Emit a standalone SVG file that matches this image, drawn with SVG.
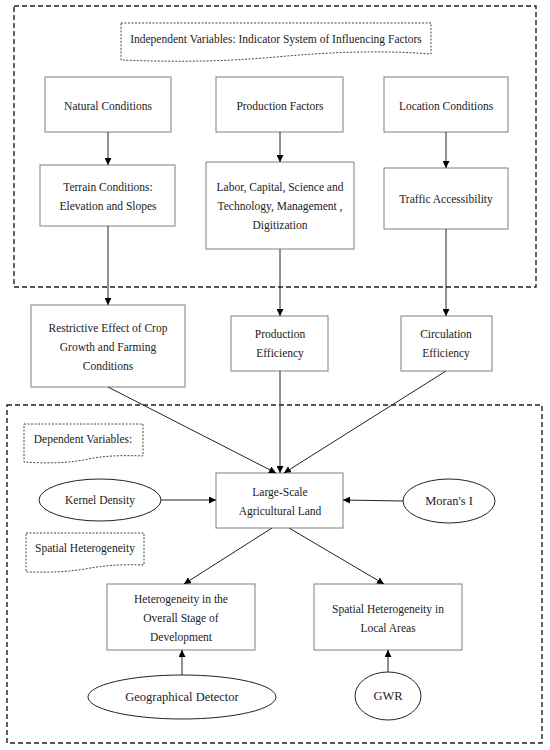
<svg xmlns="http://www.w3.org/2000/svg" width="550" height="750" viewBox="0 0 550 750">
<style>
.box{fill:#fff;stroke:#808080;stroke-width:1}
.ell{fill:#fff;stroke:#222;stroke-width:1}
.frame{fill:none;stroke:#222;stroke-width:1.4;stroke-dasharray:5,3}
.doc{fill:#fff;stroke:#333;stroke-width:0.9;stroke-dasharray:2,1.5}
.t{font-family:"Liberation Serif","DejaVu Serif",serif;font-size:11.5px;fill:#222;text-anchor:middle}
.tl{font-family:"Liberation Serif","DejaVu Serif",serif;font-size:12.5px;fill:#222;text-anchor:middle}
.c{stroke:#222;stroke-width:1;fill:none;marker-end:url(#ah)}
</style>
<defs>
<marker id="ah" viewBox="0 0 10 10" refX="10" refY="5" markerWidth="7" markerHeight="7" markerUnits="userSpaceOnUse" orient="auto">
<path d="M0,0 L10,5 L0,10 Z" fill="#000"/>
</marker>
</defs>
<rect x="14" y="6" width="522" height="281" class="frame"/>
<rect x="7" y="405" width="535" height="338" class="frame"/>
<g id="title">
<path class="doc" d="M121,23 H431 V54 C 380,50 330,52 276,57 C 220,62 170,62 121,60 Z"/>
<text class="t" x="276" y="43">Independent Variables: Indicator System of Influencing Factors</text>
</g>
<g id="natural"><rect class="box" x="45" y="77" width="126" height="55"/><text class="t" x="108" y="110">Natural Conditions</text></g>
<g id="production"><rect class="box" x="216" y="77" width="127" height="55"/><text class="t" x="280" y="110">Production Factors</text></g>
<g id="location"><rect class="box" x="384" y="77" width="124" height="55"/><text class="t" x="446" y="110">Location Conditions</text></g>
<g id="terrain"><rect class="box" x="40" y="165" width="135" height="61"/><text class="t" x="108" y="191">Terrain Conditions:</text><text class="t" x="108" y="210">Elevation and Slopes</text></g>
<g id="labor"><rect class="box" x="206" y="162" width="148" height="87"/><text class="t" x="280" y="191">Labor, Capital, Science and</text><text class="t" x="280" y="210">Technology, Management ,</text><text class="t" x="280" y="229">Digitization</text></g>
<g id="traffic"><rect class="box" x="384" y="168" width="124" height="61"/><text class="t" x="446" y="203">Traffic Accessibility</text></g>
<g id="restrictive"><rect class="box" x="31" y="305" width="154" height="82"/><text class="t" x="108" y="332">Restrictive Effect of Crop</text><text class="t" x="108" y="351">Growth and Farming</text><text class="t" x="108" y="370">Conditions</text></g>
<g id="prodeff"><rect class="box" x="231" y="316" width="97" height="55"/><text class="t" x="280" y="338">Production</text><text class="t" x="280" y="357">Efficiency</text></g>
<g id="circeff"><rect class="box" x="401" y="316" width="91" height="55"/><text class="t" x="446" y="338">Circulation</text><text class="t" x="446" y="357">Efficiency</text></g>
<g id="depvar">
<path class="doc" d="M24,424 H143 V456 C 120,455 100,456 84,460 C 60,464 40,463 24,462 Z"/>
<text class="t" x="83" y="443">Dependent Variables:</text>
</g>
<g id="spathet">
<path class="doc" d="M26,533 H144 V565 C 120,564 100,566 85,569 C 60,573 42,572 26,572 Z"/>
<text class="t" x="85" y="552">Spatial Heterogeneity</text>
</g>
<g id="large"><rect class="box" x="216" y="473" width="127" height="55"/><text class="t" x="280" y="496">Large-Scale</text><text class="t" x="280" y="515">Agricultural Land</text></g>
<g id="kernel"><ellipse class="ell" cx="100" cy="500" rx="61" ry="21"/><text class="t" x="100" y="504">Kernel Density</text></g>
<g id="moran"><ellipse class="ell" cx="449" cy="501" rx="46" ry="22"/><text class="tl" x="449" y="505">Moran's I</text></g>
<g id="hetero"><rect class="box" x="107" y="584" width="148" height="66"/><text class="t" x="181" y="603">Heterogeneity in the</text><text class="t" x="181" y="622">Overall Stage of</text><text class="t" x="181" y="641">Development</text></g>
<g id="local"><rect class="box" x="314" y="584" width="148" height="66"/><text class="t" x="388" y="613">Spatial Heterogeneity in</text><text class="t" x="388" y="632">Local Areas</text></g>
<g id="geodet"><ellipse class="ell" cx="182" cy="697" rx="94" ry="22"/><text class="tl" x="182" y="701">Geographical Detector</text></g>
<g id="gwr"><ellipse class="ell" cx="388" cy="696" rx="33" ry="24"/><text class="tl" x="388" y="700">GWR</text></g>
<g id="connectors">
<line class="c" x1="108" y1="132" x2="108" y2="165"/>
<line class="c" x1="280" y1="132" x2="280" y2="162"/>
<line class="c" x1="446" y1="132" x2="446" y2="168"/>
<line class="c" x1="108" y1="226" x2="108" y2="305"/>
<line class="c" x1="280" y1="249" x2="280" y2="316"/>
<line class="c" x1="446" y1="229" x2="446" y2="316"/>
<line class="c" x1="108" y1="387" x2="276" y2="473"/>
<line class="c" x1="280" y1="371" x2="280" y2="473"/>
<line class="c" x1="446" y1="371" x2="284" y2="473"/>
<line class="c" x1="161" y1="500" x2="216" y2="500"/>
<line class="c" x1="403" y1="501" x2="343" y2="500"/>
<line class="c" x1="272" y1="528" x2="184" y2="584"/>
<line class="c" x1="289" y1="528" x2="384" y2="584"/>
<line class="c" x1="182" y1="675" x2="182" y2="650"/>
<line class="c" x1="388" y1="672" x2="388" y2="650"/>
</g>
</svg>
